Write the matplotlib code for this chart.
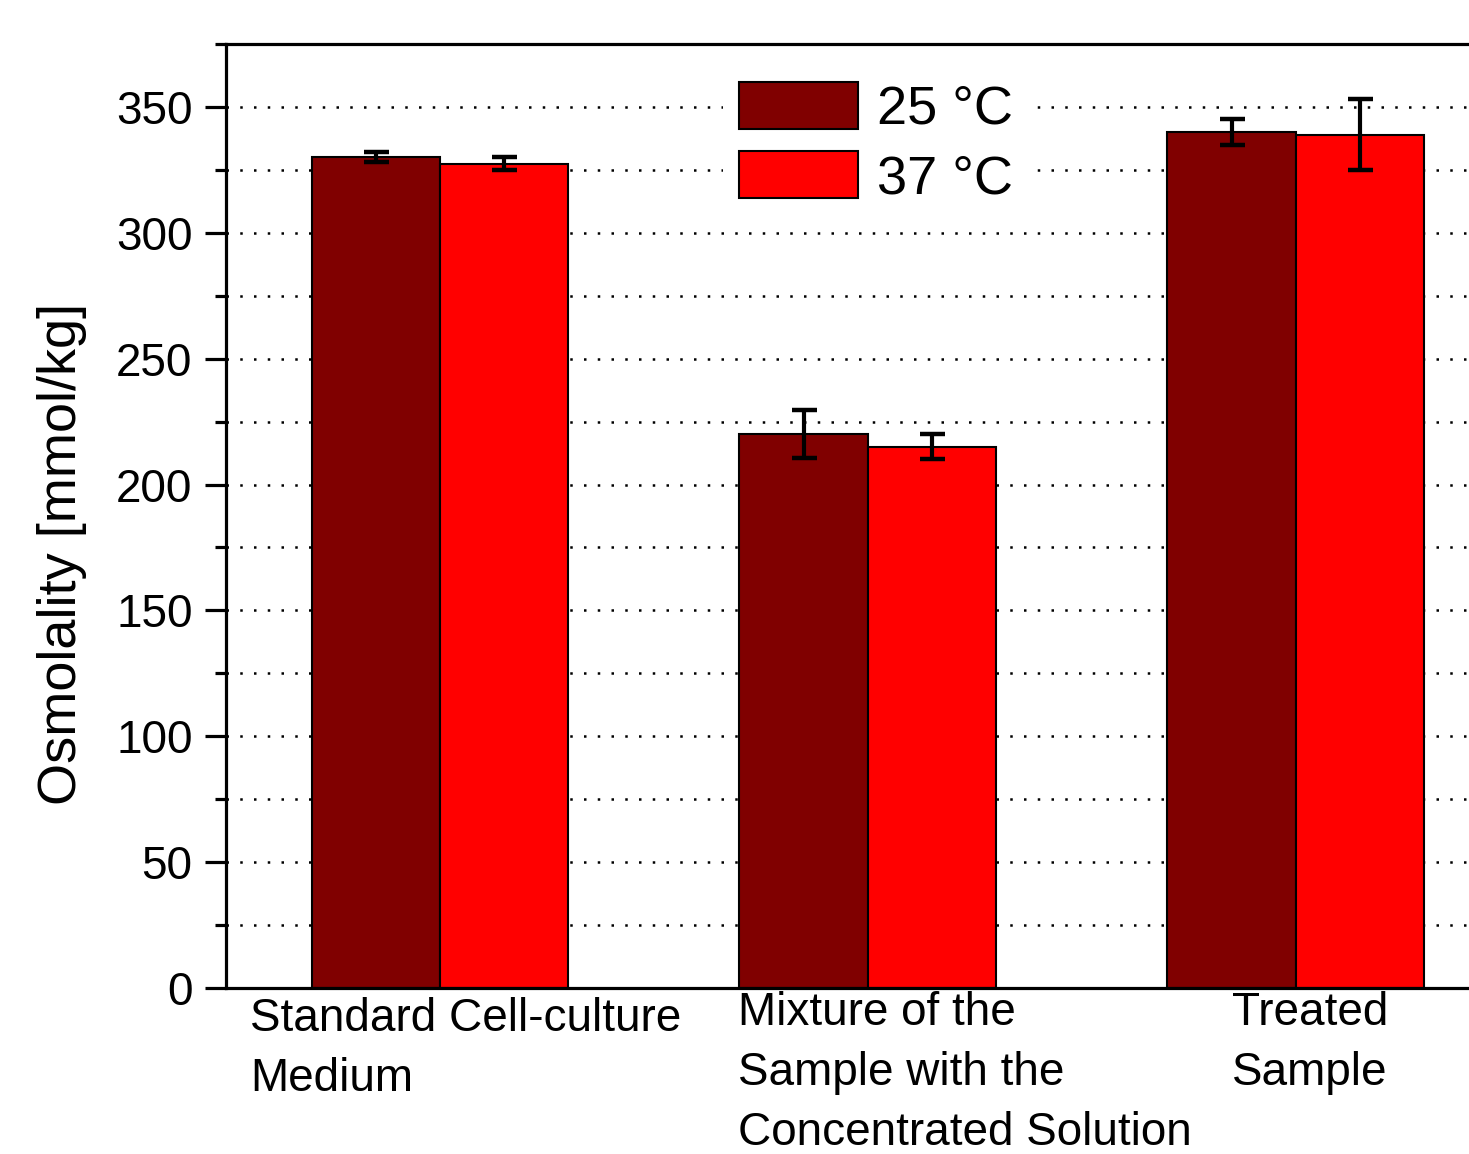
import matplotlib
matplotlib.use("Agg")
import matplotlib.pyplot as plt
import matplotlib.transforms as mtransforms
import numpy as np

plt.rcParams['font.family'] = ['Liberation Sans', 'DejaVu Sans']

categories = ["Standard Cell-culture\nMedium",
              "Mixture of the\nSample with the\nConcentrated Solution",
              "Treated\nSample"]
series_names = ["25 °C", "37 °C"]
vals_25 = [330, 220, 340]
err_25 = [2, 9.5, 5]
vals_37 = [327.5, 215, 339]
err_37 = [2.5, 5, 14]
colors = ["#800000", "#FF0000"]

fig = plt.figure(figsize=(14.69, 11.54), dpi=100)
ax = fig.add_axes([0.1538, 0.1438, 0.874, 0.8181])

x = np.arange(1, len(categories) + 1)
w = 0.3
errkw = dict(elinewidth=3, capsize=9, capthick=3.2, ecolor="black")
ax.bar(x - w / 2, vals_25, w, yerr=err_25, color=colors[0], edgecolor="black",
       linewidth=1.5, label=series_names[0], error_kw=errkw, zorder=2)
ax.bar(x + w / 2, vals_37, w, yerr=err_37, color=colors[1], edgecolor="black",
       linewidth=1.5, label=series_names[1], error_kw=errkw, zorder=2)

ax.set_xlim(0.5, 3.5)
ax.set_ylim(0, 375)
ax.set_yticks(np.arange(0, 351, 50))
ax.set_yticks(np.arange(25, 376, 50), minor=True)
ax.grid(axis="y", which="both", color="black", linestyle=(0, (1, 4.5)),
        linewidth=1.8, zorder=0)
ax.set_axisbelow(True)

for s in ax.spines.values():
    s.set_linewidth(2.3)
ax.spines["right"].set_visible(False)

ax.tick_params(axis="y", which="major", direction="out", length=15, width=2.3,
               labelsize=33, pad=9)
ax.tick_params(axis="y", which="minor", direction="out", length=8, width=2.3)
ax.tick_params(axis="x", length=0, labelsize=33, pad=2)

ax.set_xticks(x)
ax.set_xticklabels(categories, ha="left", va="top", linespacing=1.48)
offsets = [(-190, -6), (-130, 0), (-64, 0)]
for lab, (dx, dy) in zip(ax.get_xticklabels(), offsets):
    lab.set_transform(lab.get_transform() +
                      mtransforms.ScaledTranslation(dx / 100, dy / 100, fig.dpi_scale_trans))

ax.set_ylabel("Osmolality [mmol/kg]", fontsize=39)
ax.yaxis.set_label_coords(-0.108, 0.46)

leg = ax.legend(loc="upper left", bbox_to_anchor=(0.387, 0.977), fontsize=39,
                handlelength=2.2, handleheight=0.95, labelspacing=0.3,
                handletextpad=0.35, borderpad=0.3, borderaxespad=0,
                frameon=True, fancybox=False, framealpha=1, edgecolor="none")
for h in leg.legend_handles:
    h.set_linewidth(1.5)

fig.savefig("out.png", dpi=100)
